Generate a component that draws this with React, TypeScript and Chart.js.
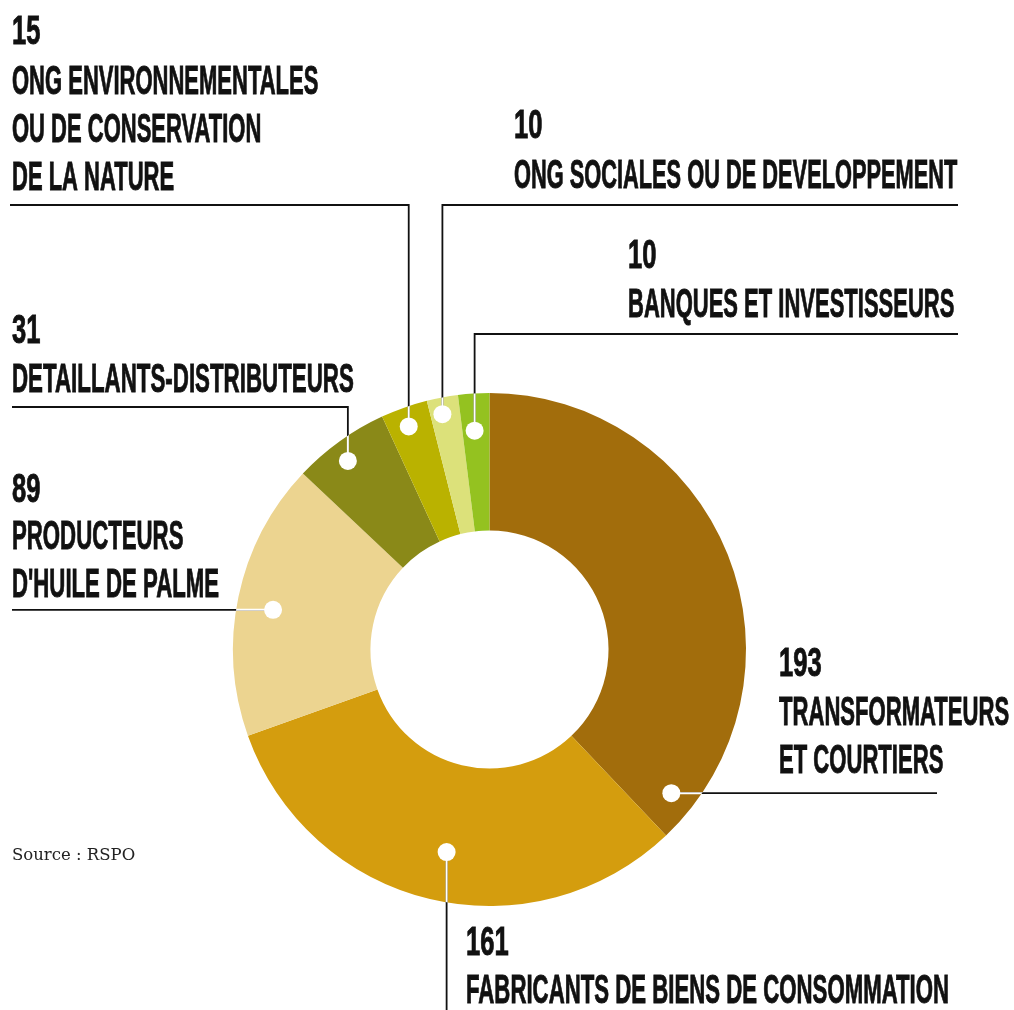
import React, { useEffect, useRef } from "react";
import { Chart, registerables } from "chart.js";

Chart.register(...registerables);

// ---- Data ----
const CATEGORIES = [
  "Transformateurs et courtiers",
  "Fabricants de biens de consommation",
  "Producteurs d'huile de palme",
  "Détaillants-distributeurs",
  "ONG environnementales ou de conservation de la nature",
  "ONG sociales ou de développement",
  "Banques et investisseurs",
];
const VALUES = [193, 161, 89, 31, 15, 10, 10];
const LABEL_LINES = [
  ["TRANSFORMATEURS", "ET COURTIERS"],
  ["FABRICANTS DE BIENS DE CONSOMMATION"],
  ["PRODUCTEURS", "D'HUILE DE PALME"],
  ["DETAILLANTS-DISTRIBUTEURS"],
  ["ONG ENVIRONNEMENTALES", "OU DE CONSERVATION", "DE LA NATURE"],
  ["ONG SOCIALES OU DE DEVELOPPEMENT"],
  ["BANQUES ET INVESTISSEURS"],
];
const COLORS = ["#A26D0C", "#D49D0E", "#ECD490", "#8A8918", "#BAB200", "#DCE17A", "#94C220"];
const SOURCE = "Source : RSPO";

// ---- Label layout (positions / routing of the callouts) ----
type Layout = {
  af: number; // fraction along the arc
  rf: number; // fraction across the ring
  route: "h" | "v" | "elbow";
  elbowY?: number;
  endX?: number;
  endY?: number;
  textX: number;
  numBase: number;
  firstBase: number;
  sx: number;
};
const LAYOUT: Layout[] = [
  { af: 0.94, rf: 0.82, route: "h", endX: 937, textX: 779, numBase: 676, firstBase: 725, sx: 0.552 },
  { af: 0.487, rf: 0.64, route: "v", endY: 1012, textX: 466, numBase: 955, firstBase: 1003, sx: 0.555 },
  { af: 0.477, rf: 0.735, route: "h", endX: 12, textX: 12, numBase: 502, firstBase: 549, sx: 0.555 },
  { af: 0.446, rf: 0.85, route: "elbow", elbowY: 407, endX: 12, textX: 12, numBase: 343, firstBase: 392, sx: 0.558 },
  { af: 0.457, rf: 0.86, route: "elbow", elbowY: 205, endX: 10, textX: 12, numBase: 44, firstBase: 94, sx: 0.55 },
  { af: 0.4, rf: 0.88, route: "elbow", elbowY: 205, endX: 958, textX: 514, numBase: 138, firstBase: 188, sx: 0.545 },
  { af: 0.45, rf: 0.73, route: "elbow", elbowY: 334, endX: 958, textX: 628, numBase: 268, firstBase: 317, sx: 0.55 },
];
const LINE_GAP = 48;
const FONT = "bold 40px 'Liberation Sans', Arial, sans-serif";
const NUM_SCALE = 0.64;

function drawCondensed(ctx: CanvasRenderingContext2D, text: string, x: number, y: number, sx: number) {
  ctx.save();
  ctx.translate(x, y);
  ctx.scale(sx, 1);
  ctx.fillText(text, 0, 0);
  ctx.lineWidth = 0.9;
  ctx.strokeText(text, 0, 0);
  ctx.restore();
}

const calloutPlugin = {
  id: "callouts",
  afterDraw(chart: any) {
    const ctx: CanvasRenderingContext2D = chart.ctx;
    const meta = chart.getDatasetMeta(0);
    const arcs = meta.data;
    if (!arcs.length) return;
    const cx = arcs[0].x;
    const cy = arcs[0].y;
    const outerR = arcs[0].outerRadius;

    const paths: { pts: [number, number][]; dot: [number, number] }[] = [];
    arcs.forEach((arc: any, i: number) => {
      const L = LAYOUT[i];
      const a = arc.startAngle + L.af * (arc.endAngle - arc.startAngle);
      const r = arc.innerRadius + L.rf * (arc.outerRadius - arc.innerRadius);
      const px = arc.x + r * Math.cos(a);
      const py = arc.y + r * Math.sin(a);
      let pts: [number, number][] = [];
      if (L.route === "h") pts = [[px, py], [L.endX!, py]];
      else if (L.route === "v") pts = [[px, py], [px, L.endY!]];
      else pts = [[px, py], [px, L.elbowY!], [L.endX!, L.elbowY!]];
      paths.push({ pts, dot: [px, py] });
    });

    const strokeAll = (color: string, w: number) => {
      ctx.strokeStyle = color;
      ctx.lineWidth = w;
      paths.forEach((p) => {
        ctx.beginPath();
        p.pts.forEach(([x, y], k) => (k === 0 ? ctx.moveTo(x, y) : ctx.lineTo(x, y)));
        ctx.stroke();
      });
    };

    ctx.save();
    ctx.lineJoin = "miter";
    strokeAll("#111111", 1.8);
    ctx.save();
    ctx.beginPath();
    ctx.arc(cx, cy, outerR, 0, Math.PI * 2);
    ctx.clip();
    strokeAll("#ffffff", 2);
    ctx.restore();

    ctx.fillStyle = "#ffffff";
    paths.forEach((p) => {
      ctx.beginPath();
      ctx.arc(p.dot[0], p.dot[1], 9, 0, Math.PI * 2);
      ctx.fill();
    });

    // texts
    ctx.fillStyle = "#111111";
    ctx.strokeStyle = "#111111";
    ctx.font = FONT;
    ctx.textAlign = "left";
    ctx.textBaseline = "alphabetic";
    LAYOUT.forEach((L, i) => {
      drawCondensed(ctx, String(VALUES[i]), L.textX, L.numBase, NUM_SCALE);
      LABEL_LINES[i].forEach((line, k) => {
        drawCondensed(ctx, line, L.textX, L.firstBase + k * LINE_GAP, L.sx);
      });
    });

    ctx.font = "16.5px 'DejaVu Serif', Georgia, serif";
    ctx.fillStyle = "#222222";
    ctx.fillText(SOURCE, 12, 860);
    ctx.restore();
  },
};

export default function App() {
  const ref = useRef<HTMLCanvasElement>(null);
  useEffect(() => {
    if (!ref.current) return;
    const chart = new Chart(ref.current, {
      type: "doughnut",
      data: {
        labels: CATEGORIES,
        datasets: [
          {
            data: VALUES,
            backgroundColor: COLORS,
            borderWidth: 0,
            hoverOffset: 0,
          },
        ],
      },
      options: {
        responsive: false,
        animation: false,
        cutout: "46.4%",
        layout: { padding: { left: 233, right: 268, top: 393, bottom: 104 } },
        plugins: {
          legend: { display: false },
          tooltip: { enabled: false },
        },
        events: [],
      },
      plugins: [calloutPlugin],
    });
    return () => chart.destroy();
  }, []);
  return (
    <div style={{ position: "absolute", left: 0, top: 0, width: 1014, height: 1010, background: "#fff" }}>
      <canvas ref={ref} width={1014} height={1010} style={{ display: "block" }} />
    </div>
  );
}
